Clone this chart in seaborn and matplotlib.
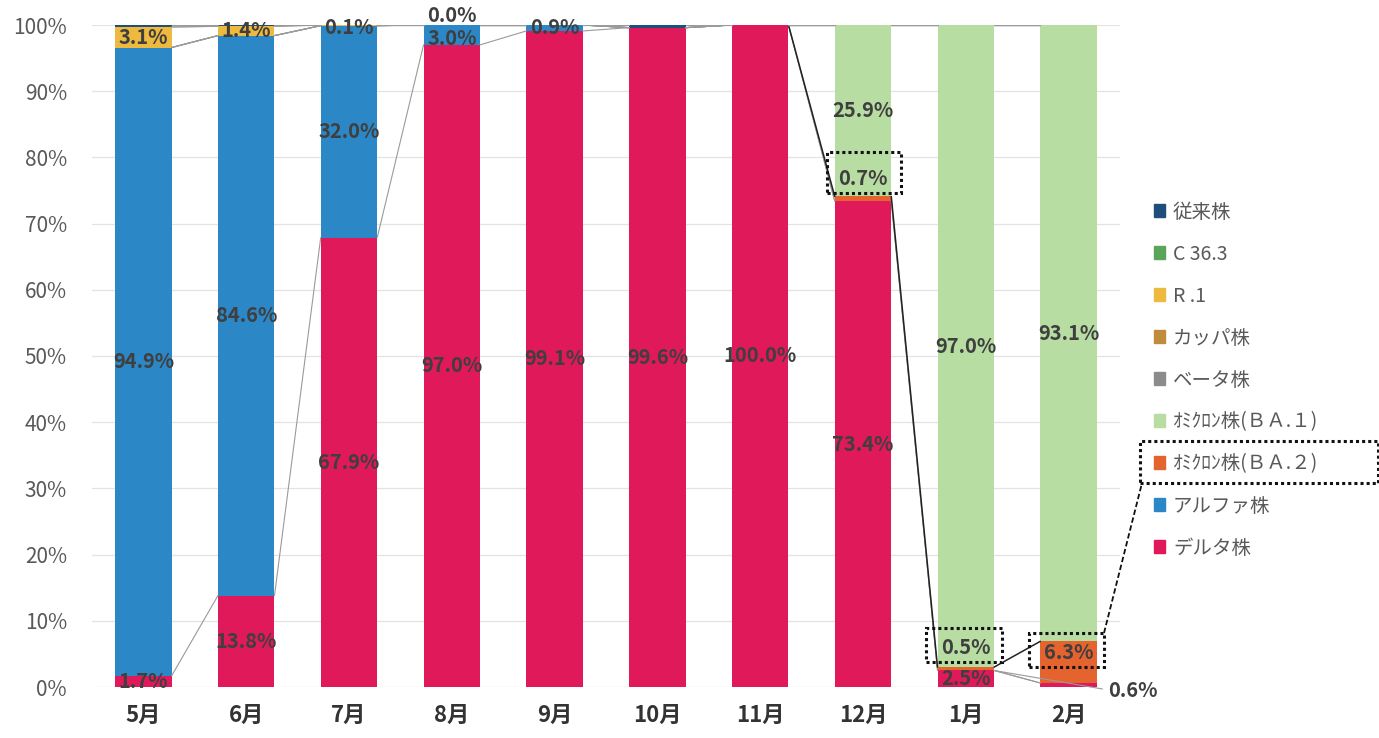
import numpy as np
import pandas as pd
import seaborn as sns
import matplotlib.pyplot as plt
from matplotlib.patches import Patch, Rectangle
from matplotlib.lines import Line2D

# months and variant shares (%)
months = ["5月", "6月", "7月", "8月", "9月", "10月", "11月", "12月", "1月", "2月"]
delta = [1.7, 13.8, 67.9, 97.0, 99.1, 99.6, 100.0, 73.4, 2.5, 0.6]
alpha = [94.9, 84.6, 32.0, 3.0, 0.9, 0.0, 0.0, 0.0, 0.0, 0.0]
ba2 = [0.0, 0.0, 0.0, 0.0, 0.0, 0.0, 0.0, 0.7, 0.5, 6.3]
ba1 = [0.0, 0.0, 0.0, 0.0, 0.0, 0.0, 0.0, 25.9, 97.0, 93.1]
beta = [0.0] * 10
kappa = [0.0] * 10
r1 = [3.1, 1.4, 0.1, 0.0, 0.0, 0.0, 0.0, 0.0, 0.0, 0.0]
c363 = [0.0] * 10
conventional = [0.3, 0.2, 0.0, 0.0, 0.0, 0.4, 0.0, 0.0, 0.0, 0.0]

# stacking order bottom -> top
series = [
    ("デルタ株", delta, "#E0195B"),
    ("アルファ株", alpha, "#2C87C6"),
    ("ｵﾐｸﾛﾝ株(ＢＡ.２)", ba2, "#E4632E"),
    ("ｵﾐｸﾛﾝ株(ＢＡ.１)", ba1, "#B7DDA3"),
    ("ベータ株", beta, "#8C8C8C"),
    ("カッパ株", kappa, "#C08B3C"),
    ("R.1", r1, "#EDB93E"),
    ("C36.3", c363, "#5BA55B"),
    ("従来株", conventional, "#1F4E7A"),
]
legend_names = ["従来株", "C 36.3", "R .1", "カッパ株", "ベータ株",
                "ｵﾐｸﾛﾝ株(ＢＡ.１)", "ｵﾐｸﾛﾝ株(ＢＡ.２)", "アルファ株", "デルタ株"]

# which values get a data label: (month index, series index) -> label y offset (in %)
labels = {
    (0, 0): 0, (0, 1): 0, (0, 6): 0,
    (1, 0): 0, (1, 1): 0, (1, 6): 0,
    (2, 0): 0, (2, 1): 0, (2, 6): -0.4,
    (3, 0): 0, (3, 1): -0.6, (3, 6): 1.4,
    (4, 0): 0, (4, 1): 0,
    (5, 0): 0,
    (6, 0): 0,
    (7, 0): 0, (7, 2): 3.0, (7, 3): 0,
    (8, 0): 0, (8, 2): 3.2, (8, 3): 0,
    (9, 2): 1.5, (9, 3): 0,
}

sns.set_style("white")
plt.rcParams["font.family"] = ["Noto Sans CJK JP", "DejaVu Sans"]

W, H = 1379, 738
fig = plt.figure(figsize=(W / 100, H / 100), dpi=100)
ax = fig.add_axes([92 / W, 51 / H, 1028 / W, 662 / H])

vals = np.array([s[1] for s in series])
cum = np.cumsum(vals, axis=0)
bar_w = 0.55

# overlay cumulative bars top series first
for i in range(len(series) - 1, -1, -1):
    df = pd.DataFrame({"month": months, "v": cum[i]})
    sns.barplot(data=df, x="month", y="v", color=series[i][2], width=bar_w,
                saturation=1, ax=ax, linewidth=0, zorder=2)

# series lines between neighbouring bars
x = np.arange(len(months))
for i in range(len(series)):
    col = "#222222" if i == 2 else "#9a9a9a"
    lw = 1.1 if i == 2 else 0.8
    for j in range(len(months) - 1):
        if i != 2 or j >= 6:
            ax.plot([x[j] + bar_w / 2, x[j + 1] - bar_w / 2], [cum[i][j], cum[i][j + 1]],
                    color=col, lw=lw, zorder=3)

# data labels
for (j, i), dy in labels.items():
    center = cum[i][j] - vals[i][j] / 2 + dy
    ax.text(x[j], center, f"{vals[i][j]:.1f}%", ha="center", va="center",
            fontsize=14.5, fontweight="bold", color="#3f3f3f", zorder=5)
# 2月 delta label outside the bar
ax.plot([x[8] + bar_w / 2, x[9] + 0.33], [cum[0][8], -0.3], color="#9a9a9a", lw=0.8,
        zorder=3, clip_on=False)
ax.text(x[9] + 0.38, -0.6, f"{delta[9]:.1f}%", ha="left", va="center",
        fontsize=14.5, fontweight="bold", color="#3f3f3f", clip_on=False)

# dotted highlight boxes
for (x0, x1, y0, y1) in [(6.65, 7.37, 74.6, 80.8), (7.61, 8.35, 3.8, 8.9), (8.61, 9.34, 3.0, 8.2)]:
    ax.add_patch(Rectangle((x0, y0), x1 - x0, y1 - y0, fill=False, ec="#111111",
                           lw=2.2, ls=(0, (1, 1)), zorder=6, clip_on=False))

ax.set_xlim(-0.5, len(months) - 0.5)
ax.set_ylim(0, 100)
ax.set_yticks(np.arange(0, 101, 10))
ax.set_yticklabels([f"{v}%" for v in range(0, 101, 10)], fontsize=15, color="#595959")
ax.set_xlabel("")
ax.set_ylabel("")
ax.tick_params(axis="x", labelsize=16, labelcolor="#333333", length=0, pad=12)
ax.tick_params(axis="y", length=0, pad=18)
for lab in ax.get_xticklabels():
    lab.set_fontweight("bold")
ax.yaxis.grid(True, color="#e3e3e3", lw=0.9, zorder=0)
ax.set_axisbelow(True)
sns.despine(ax=ax, left=True, bottom=True)

# legend (reverse order)
handles = [Patch(color=series[i][2]) for i in range(len(series) - 1, -1, -1)]
fig.legend(handles, legend_names, loc="upper left", bbox_to_anchor=(1136 / W, 1 - 184 / H),
           frameon=False, fontsize=14, handlelength=0.6, handleheight=0.6,
           handletextpad=0.4, labelspacing=1.08, labelcolor="#595959")

# legend highlight box and connector
fig.add_artist(Rectangle((1140 / W, 1 - 483 / H), 238 / W, 42 / H, fill=False, ec="#111111",
                         lw=2.2, ls=(0, (1, 1)), transform=fig.transFigure))
fig.add_artist(Line2D([1104 / W, 1142 / W], [1 - 633 / H, 1 - 483 / H], color="#111111",
                      lw=1.3, ls=(0, (3, 1.5)), transform=fig.transFigure))

fig.savefig("out.png", dpi=100, facecolor="white")
